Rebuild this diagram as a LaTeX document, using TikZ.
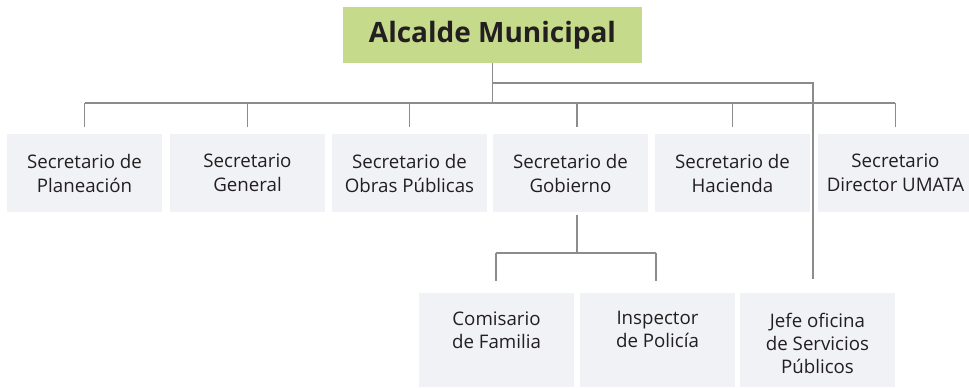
\documentclass[tikz,border=0pt]{standalone}
\usepackage{fontspec}
\setmainfont{Open Sans}
\definecolor{topgreen}{HTML}{C5DA8A}
\definecolor{boxgrey}{HTML}{F1F2F6}
\definecolor{linegrey}{HTML}{8C8C8C}
\definecolor{txt}{HTML}{231F20}
\begin{document}
\begin{tikzpicture}[x=1pt,y=-1pt,
  topbox/.style={fill=topgreen,minimum width=299pt,minimum height=56pt,inner sep=0pt,text=txt,font=\fontsize{28}{33}\selectfont\bfseries},
  secbox/.style={fill=boxgrey,minimum width=155pt,minimum height=78pt,inner sep=0pt,align=center,text=txt,font=\fontsize{18.7}{24}\selectfont},
  lowbox/.style={fill=boxgrey,minimum width=155pt,minimum height=94pt,inner sep=0pt},
  lowtext/.style={inner sep=0pt,align=center,text=txt,font=\fontsize{18.7}{23}\selectfont},
  conn/.style={draw=linegrey,line width=1.5pt}]
\useasboundingbox (0,0) rectangle (969,388);
\node[topbox] (top) at (492.5,35) {Alcalde Municipal};
\node[secbox] (s1) at (84.5,173) {Secretario de\\Planeación};
\node[secbox] (s2) at (247.5,173) {Secretario\\General};
\node[secbox] (s3) at (409.5,173) {Secretario de\\Obras Públicas};
\node[secbox] (s4) at (570.5,173) {Secretario de\\Gobierno};
\node[secbox] (s5) at (732.5,173) {Secretario de\\Hacienda};
\node[secbox] (s6) at (895.5,173) {Secretario\\Director UMATA};
\node[lowbox] (l1) at (496.5,340) {};
\node[lowbox] (l2) at (657.5,340) {};
\node[lowbox] (l3) at (817.5,340) {};
\node[lowtext] (l1t) at (496.5,343.5) {Comisario\\de Familia\\\phantom{Xy}};
\node[lowtext] (l2t) at (657.5,343.5) {Inspector\\de Policía\\\phantom{Xy}};
\node[lowtext] (l3t) at (817.5,343.5) {Jefe oficina\\de Servicios\\Públicos};
\coordinate (busL) at (85,103);
\coordinate (busR) at (895,103);
\coordinate (rbus) at (493,83);
\coordinate (rcorner) at (813,83);
\coordinate (jefeEnd) at (813,279);
\coordinate (gobTop) at (577,215);
\coordinate (gobBus) at (577,253);
\coordinate (lowL) at (496,253);
\coordinate (lowR) at (656,253);
\draw[conn] (top.south) -- (top.south |- busL);
\draw[conn] (busL) -- (busR);
\draw[conn] (rbus) -- (rcorner) -- (jefeEnd);
\draw[conn] (s1.north |- busL) -- ([yshift=7pt]s1.north);
\draw[conn] (s2.north |- busL) -- ([yshift=7pt]s2.north);
\draw[conn] (s3.north |- busL) -- ([yshift=7pt]s3.north);
\draw[conn] ([xshift=6.5pt]s4.north |- busL) -- ([xshift=6.5pt,yshift=7pt]s4.north);
\draw[conn] (s5.north |- busL) -- ([yshift=7pt]s5.north);
\draw[conn] (s6.north |- busL) -- ([yshift=7pt]s6.north);
\draw[conn] (gobTop) -- (gobBus);
\draw[conn] (lowL) -- (lowR);
\draw[conn] (lowL) -- ([yshift=12pt]l1.north -| lowL);
\draw[conn] (lowR) -- ([yshift=12pt]l2.north -| lowR);
\end{tikzpicture}
\end{document}
